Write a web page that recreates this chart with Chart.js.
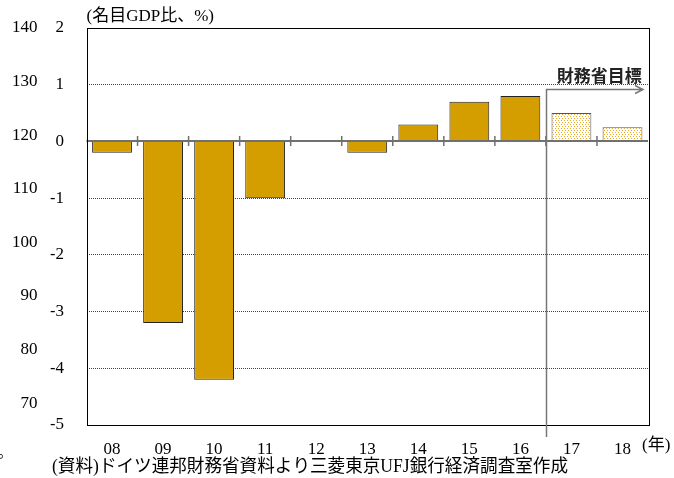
<!DOCTYPE html>
<html lang="ja">
<head>
<meta charset="utf-8">
<script src="https://cdn.jsdelivr.net/npm/chart.js@4"></script>
<style>
  html, body { margin: 0; padding: 0; background: #fff; }
</style>
</head>
<body>
<canvas id="balanceChart" width="674" height="478"></canvas>
<script>
  // general government balance, % of nominal GDP (17, 18 = finance ministry target)
  const years = ['08', '09', '10', '11', '12', '13', '14', '15', '16', '17', '18'];
  const balance = [-0.2, -3.2, -4.2, -1.0, 0, -0.2, 0.3, 0.7, 0.8, 0.5, 0.25];
  const targetYears = ['17', '18'];
  const outerTicks = [140, 130, 120, 110, 100, 90, 80, 70];

  const serif = "'Liberation Serif', 'Noto Sans CJK JP', serif";
  const gothic = "'Noto Sans CJK JP', sans-serif";
  const barColor = '#D49E00';

  // white fill with orange dots for the target years
  function dotPattern() {
    const c = document.createElement('canvas');
    c.width = 3; c.height = 4;
    const g = c.getContext('2d');
    g.fillStyle = '#fff';
    g.fillRect(0, 0, 3, 4);
    g.fillStyle = '#E9A92A';
    g.fillRect(0, 0, 1, 1);
    g.fillRect(1, 2, 1, 1);
    return g.createPattern(c, 'repeat');
  }
  const dots = dotPattern();
  const isTarget = (i) => targetYears.includes(years[i]);

  // label padding would otherwise push the plot top down
  const noEndPadding = (s, width) => {
    s.width = width;
    s.paddingTop = 0;
    s.paddingBottom = 0;
  };

  const frame = {
    id: 'frame',
    afterDatasetsDraw(chart) {
      const { ctx, chartArea: a, scales: { x, y } } = chart;
      const y0 = Math.round(y.getPixelForValue(0));
      ctx.save();

      // zero line with small marks between years
      ctx.strokeStyle = '#707070';
      ctx.lineWidth = 2;
      ctx.beginPath();
      ctx.moveTo(a.left, y0);
      ctx.lineTo(a.right, y0);
      ctx.stroke();
      ctx.lineWidth = 1.5;
      for (let i = 1; i < years.length; i++) {
        const bx = (x.getPixelForValue(i - 1) + x.getPixelForValue(i)) / 2;
        ctx.beginPath();
        ctx.moveTo(bx, y0 - 5);
        ctx.lineTo(bx, y0 + 5);
        ctx.stroke();
      }

      // plot frame
      ctx.strokeStyle = '#000';
      ctx.lineWidth = 1;
      ctx.strokeRect(Math.round(a.left) + 0.5, Math.round(a.top) + 0.5,
        Math.round(a.right - a.left), Math.round(a.bottom - a.top));

      // target period marker
      const first = years.indexOf(targetYears[0]);
      const tx = Math.round((x.getPixelForValue(first - 1) + x.getPixelForValue(first)) / 2) + 0.5;
      const ty = Math.round(y.getPixelForValue(0.93)) + 0.5;
      const ex = a.right - 5;
      ctx.strokeStyle = '#777';
      ctx.lineWidth = 1.5;
      ctx.beginPath();
      ctx.moveTo(tx, a.bottom + 12);
      ctx.lineTo(tx, ty);
      ctx.lineTo(ex, ty);
      ctx.moveTo(ex - 8, ty - 4);
      ctx.lineTo(ex, ty);
      ctx.lineTo(ex - 8, ty + 4);
      ctx.stroke();

      ctx.fillStyle = '#222';
      ctx.font = "bold 17px " + gothic;
      ctx.textAlign = 'center';
      ctx.textBaseline = 'middle';
      ctx.fillText('財務省目標', (tx + a.right) / 2 + 2, ty - 14);

      // unit, year suffix and source
      ctx.fillStyle = '#000';
      ctx.textAlign = 'left';
      ctx.font = "17px " + serif;
      ctx.fillText('(名目GDP比、%)', a.left, 17);
      ctx.fillText('(年)', a.right - 6, 446);
      ctx.font = "18px " + serif;
      ctx.fillText('(資料)ドイツ連邦財務省資料より三菱東京UFJ銀行経済調査室作成', 52, 467, 516);
      ctx.font = "14px " + gothic;
      ctx.fillText('。', -2, 452);
      ctx.restore();
    }
  };

  new Chart(document.getElementById('balanceChart'), {
    type: 'bar',
    data: {
      labels: years,
      datasets: [{
        data: balance,
        backgroundColor: (c) => isTarget(c.dataIndex) ? dots : barColor,
        borderColor: (c) => isTarget(c.dataIndex) ? '#555' : '#222',
        borderWidth: 1,
        barPercentage: 0.78,
        categoryPercentage: 1.0
      }]
    },
    options: {
      responsive: false,
      animation: false,
      devicePixelRatio: 1,
      layout: { padding: { left: 11.5, right: 26, top: 28, bottom: 13 } },
      plugins: {
        legend: { display: false },
        tooltip: { enabled: false }
      },
      scales: {
        x: {
          offset: true,
          grid: { display: false },
          border: { display: false },
          ticks: { color: '#000', font: { family: serif, size: 17 }, padding: 6, maxRotation: 0, autoSkip: false },
          afterFit: (s) => { s.height = 40; }
        },
        y: {
          min: -5,
          max: 2,
          weight: 0,
          ticks: { stepSize: 1, color: '#000', font: { family: serif, size: 17 }, padding: 22.5 },
          grid: {
            drawTicks: false,
            color: (c) => (c.tick.value === 0 || c.tick.value === 2 || c.tick.value === -5) ? 'rgba(0,0,0,0)' : '#444'
          },
          border: { display: false, dash: [1, 1] },
          afterFit: (s) => noEndPadding(s, 36)
        },
        y2: {
          position: 'left',
          weight: 1,
          min: 65.9,
          max: 140,
          ticks: { color: '#000', font: { family: serif, size: 17 }, padding: 13 },
          grid: { display: false, drawTicks: false },
          border: { display: false },
          afterBuildTicks: (s) => { s.ticks = outerTicks.map(v => ({ value: v })); },
          afterFit: (s) => noEndPadding(s, 39)
        }
      }
    },
    plugins: [frame]
  });
</script>
</body>
</html>
